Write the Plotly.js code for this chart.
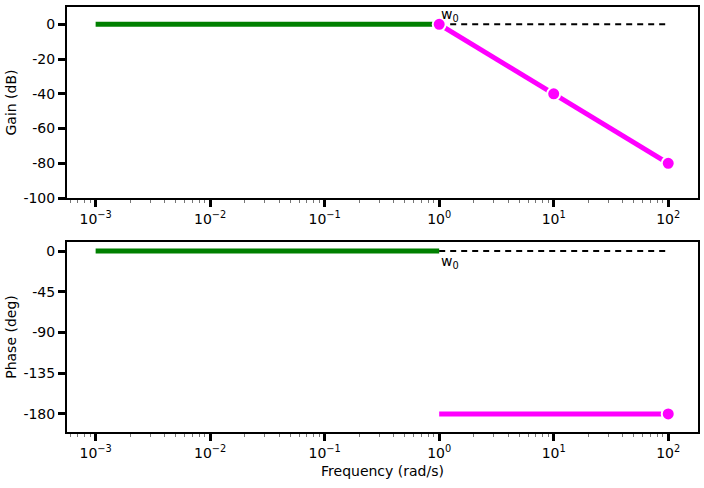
<!DOCTYPE html>
<html>
<head>
<meta charset="utf-8">
<script src="https://cdn.plot.ly/plotly-3.0.1.min.js"></script>
<style>html,body{margin:0;padding:0;background:#fff;}#chart{width:704px;height:488px;}</style>
</head>
<body>
<div id="chart"></div>
<script>
// ---- data ----
const freqLow = [0.001, 0.01, 0.1, 1];
const gainLow = [0, 0, 0, 0];
const phaseLow = [0, 0, 0, 0];
const freqHigh = [1, 10, 100];
const gainHigh = [0, -40, -80];
const phaseHigh = [-180, -180, -180];
const asymFreq = [1, 10, 100];
const asymGain = [0, 0, 0];
const asymPhase = [0, 0, 0];
const gainMarkFreq = [1, 10, 100];
const gainMarkVals = [0, -40, -80];
const phaseMarkFreq = [100];
const phaseMarkVals = [-180];
const xTickVals = [0.001, 0.01, 0.1, 1, 10, 100];
const xTickText = ['10<sup>−3</sup>', '10<sup>−2</sup>', '10<sup>−1</sup>', '10<sup>0</sup>', '10<sup>1</sup>', '10<sup>2</sup>'];
const gainTicks = [0, -20, -40, -60, -80, -100];
const phaseTicks = [0, -45, -90, -135, -180];

const FONT = 'DejaVu Sans, sans-serif';
const GREEN = '#008000', MAG = '#ff00ff';

const traces = [
  {x: freqLow, y: gainLow, xaxis: 'x', yaxis: 'y', mode: 'lines', line: {color: GREEN, width: 5}},
  {x: asymFreq, y: asymGain, xaxis: 'x', yaxis: 'y', mode: 'lines', line: {color: 'black', width: 2, dash: '6px,5px'}},
  {x: freqHigh, y: gainHigh, xaxis: 'x', yaxis: 'y', mode: 'lines', line: {color: MAG, width: 5}},
  {x: gainMarkFreq, y: gainMarkVals, xaxis: 'x', yaxis: 'y', mode: 'markers', marker: {color: MAG, size: 13, line: {color: 'white', width: 2}}},
  {x: freqLow, y: phaseLow, xaxis: 'x2', yaxis: 'y2', mode: 'lines', line: {color: GREEN, width: 5}},
  {x: asymFreq, y: asymPhase, xaxis: 'x2', yaxis: 'y2', mode: 'lines', line: {color: 'black', width: 2, dash: '6px,5px'}},
  {x: freqHigh, y: phaseHigh, xaxis: 'x2', yaxis: 'y2', mode: 'lines', line: {color: MAG, width: 5}},
  {x: phaseMarkFreq, y: phaseMarkVals, xaxis: 'x2', yaxis: 'y2', mode: 'markers', marker: {color: MAG, size: 13, line: {color: 'white', width: 2}}}
];

const xCommon = {
  type: 'log', range: [-3.25, 2.26], tickmode: 'array', tickvals: xTickVals, ticktext: xTickText,
  ticks: 'outside', ticklen: 7, tickwidth: 3, tickcolor: 'black',
  showline: true, mirror: true, linecolor: 'black', linewidth: 2, showgrid: false, zeroline: false,
  tickfont: {family: FONT, size: 14, color: 'black'},
  minor: {dtick: 'D1', ticks: 'outside', ticklen: 3, tickwidth: 1, tickcolor: '#777', showgrid: false}
};
const yCommon = {
  ticks: 'outside', ticklen: 7, tickwidth: 3, tickcolor: 'black',
  showline: true, mirror: true, linecolor: 'black', linewidth: 2, showgrid: false, zeroline: false,
  tickfont: {family: FONT, size: 14, color: 'black'}, tickmode: 'array'
};

const layout = {
  width: 704, height: 488,
  margin: {l: 67, r: 6, t: 7, b: 56},
  paper_bgcolor: 'white', plot_bgcolor: 'white',
  showlegend: false,
  font: {family: FONT, color: 'black'},
  xaxis: Object.assign({}, xCommon, {domain: [0, 1], anchor: 'y'}),
  yaxis: Object.assign({}, yCommon, {domain: [0.5506, 1], anchor: 'x', range: [-100, 10], tickvals: gainTicks,
    ticktext: gainTicks.map(String), title: {text: 'Gain (dB)', font: {family: FONT, size: 14}, standoff: 4}}),
  xaxis2: Object.assign({}, xCommon, {domain: [0, 1], anchor: 'y2',
    title: {text: 'Frequency (rad/s)', font: {family: FONT, size: 14}, standoff: 6}}),
  yaxis2: Object.assign({}, yCommon, {domain: [0, 0.447], anchor: 'x2', range: [-200, 10], tickvals: phaseTicks,
    ticktext: phaseTicks.map(String), title: {text: 'Phase (deg)', font: {family: FONT, size: 14}, standoff: 4}}),
  annotations: [
    {x: 0, y: 0, xref: 'x', yref: 'y', text: 'w<sub>0</sub>', showarrow: false, xanchor: 'left', yanchor: 'bottom',
      xshift: 0, yshift: -2, font: {family: FONT, size: 14, color: 'black'}},
    {x: 0, y: 0, xref: 'x2', yref: 'y2', text: 'w<sub>0</sub>', showarrow: false, xanchor: 'left', yanchor: 'top',
      xshift: 0, yshift: 0, font: {family: FONT, size: 14, color: 'black'}}
  ]
};

Plotly.newPlot('chart', traces, layout, {displayModeBar: false, staticPlot: true});
</script>
</body>
</html>
